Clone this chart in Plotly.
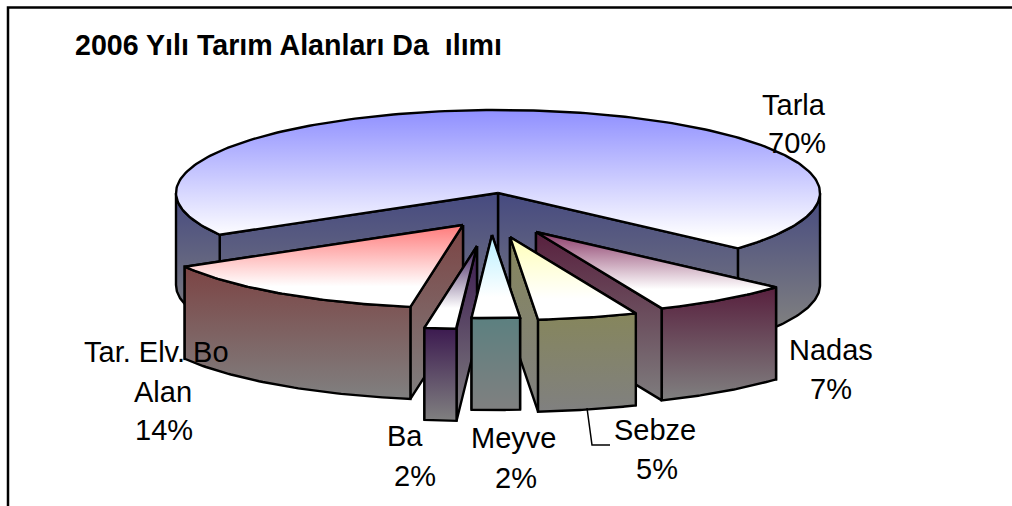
import numpy as np
import plotly.graph_objects as go

# Data
CATEGORIES = ["Tarla", "Nadas", "Sebze", "Meyve", "Ba", "Tar. Elv. Bo\nAlan"]
VALUES = [70.0, 7.0, 5.0, 2.4, 1.6, 14.0]
TITLE = "2006 Yılı Tarım Alanları Da  ılımı"

# Layout / projection
W, H = 1012, 506
CX, CY, RX, RY, DEPTH = 498, 193, 322, 83, 92
START_ANGLE = 41.8
OFFSETS = [(0, 0), (38, 39), (12, 44), (-6, 42), (-21, 53), (-35, 32)]
TOP_COLORS = ["#8f8fff", "#8a3a68", "#ffffb8", "#b8f0ff", "#3a1a58", "#ff7a7a"]
SIDE_COLORS = ["#464a80", "#58203e", "#86865c", "#5c8080", "#3c1a50", "#7c4444"]
GRAY = "#808080"
LABEL_POS = {
    "Tarla": [(794, 105), (797, 143)],
    "Nadas": [(831, 350), (831, 389)],
    "Sebze": [(655, 430), (657, 469)],
    "Meyve": [(513, 438), (516, 478)],
    "Ba": [(405, 436), (415, 476)],
    "Tar. Elv. Bo\nAlan": [(156, 352), (163, 392), (164, 430)],
}
DRAW_ORDER = [0, 5, 1, 4, 2, 3]

fig = go.Figure()


def poly(xs, ys, c0, c1, y0=None, y1=None):
    xs, ys = np.asarray(xs, float), np.asarray(ys, float)
    xs = np.append(xs, xs[0])
    ys = np.append(ys, ys[0])
    y0 = float(ys.min()) if y0 is None else y0
    y1 = float(ys.max()) if y1 is None else y1
    fig.add_trace(go.Scatter(
        x=xs, y=ys, mode="lines", fill="toself",
        fillgradient=dict(type="vertical", start=y0, stop=y1,
                          colorscale=[[0, c0], [1, c1]]),
        line=dict(color="black", width=2.4), hoverinfo="skip", showlegend=False))


def arc(a, b, ox, oy, dz=0.0, n=60):
    t = np.radians(np.linspace(a, b, n))
    return CX + ox + RX * np.cos(t), CY + oy + dz + RY * np.sin(t)


def wall(a, ox, oy, c0, y0, y1):
    x, y = arc(a, a, ox, oy, n=1)
    ax, ay = CX + ox, CY + oy
    poly([ax, x[0], x[0], ax], [ay, y[0], y[0] + DEPTH, ay + DEPTH], c0, GRAY, y0, y1)


# Angles from the values (clockwise on screen)
spans = np.array(VALUES) / sum(VALUES) * 360
angles = {}
cur = START_ANGLE
for i in [1, 2, 3, 4, 5, 0]:
    angles[i] = (cur, cur + spans[i])
    cur += spans[i]

for i in DRAW_ORDER:
    a, b = angles[i]
    ox, oy = OFFSETS[i]
    top, side = TOP_COLORS[i], SIDE_COLORS[i]
    x, y = arc(a, b, ox, oy, n=240 if i == 0 else 60)
    apex = (CX + ox, CY + oy)
    if i == 0:
        # rear piece: radial walls first, then the visible rim to either side
        wall(b, ox, oy, side, CY, CY + 150)
        wall(a, ox, oy, side, CY, CY + 150)
        xt, yt = arc(360, b, ox, oy)
        poly(np.r_[xt, xt[::-1]], np.r_[yt, yt[::-1] + DEPTH], side, GRAY, CY, CY + 135)
        xt, yt = arc(a, 180, ox, oy)
        poly(np.r_[xt, xt[::-1]], np.r_[yt, yt[::-1] + DEPTH], side, GRAY, CY, CY + 135)
    else:
        mid = (a + b) / 2
        order = (a, b) if mid < 90 else (b, a)
        y0, y1 = apex[1], apex[1] + (RY + DEPTH)
        for e in order:
            wall(e, ox, oy, side, y0, y1)
        poly(np.r_[x, x[::-1]], np.r_[y, y[::-1] + DEPTH], side, GRAY, y.min(), y.max() + DEPTH)
    if i == 0:
        poly(np.r_[apex[0], x], np.r_[apex[1], y], top, "#ffffff", CY - RY, CY + 45)
    else:
        poly(np.r_[apex[0], x], np.r_[apex[1], y], top, "#ffffff",
             apex[1], apex[1] + 0.75 * (y.max() - apex[1]))

# Sebze leader line
fig.add_shape(type="path", path="M587,408 L592,445 L610,445", xref="x", yref="y",
              line=dict(color="black", width=1.5))
# Frame
fig.add_shape(type="path", path=f"M{W},7.5 L8,7.5 L8,{H}", xref="x", yref="y",
              line=dict(color="black", width=2.5))

for i, name in enumerate(CATEGORIES):
    lines = name.split("\n") + [f"{round(VALUES[i])}%"]
    for txt, (px, py) in zip(lines, LABEL_POS[name]):
        fig.add_annotation(x=px, y=py, text=txt, showarrow=False, xref="x", yref="y",
                           xanchor="center", yanchor="middle",
                           font=dict(family="Liberation Sans", size=29, color="black"))

fig.add_annotation(x=73, y=45, text=f"<b>{TITLE}</b>", showarrow=False, xref="x", yref="y",
                   xanchor="left", yanchor="middle",
                   font=dict(family="Liberation Sans", size=28.6, color="black"))

fig.update_layout(
    width=W, height=H, margin=dict(l=0, r=0, t=0, b=0),
    paper_bgcolor="white", plot_bgcolor="white", showlegend=False,
    xaxis=dict(range=[0, W], visible=False, fixedrange=True),
    yaxis=dict(range=[H, 0], visible=False, fixedrange=True),
)
fig.write_html("out.html", config={"displayModeBar": False},
               post_script="document.body.style.margin='0';")
